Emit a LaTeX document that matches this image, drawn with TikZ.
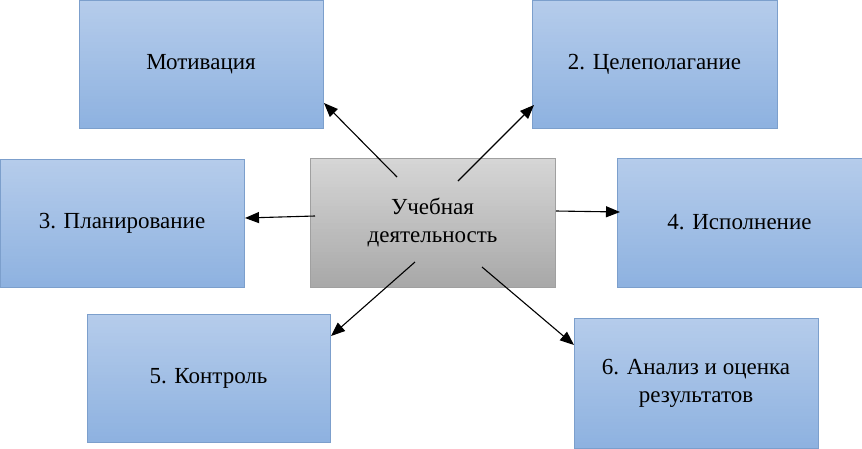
\documentclass[tikz,border=0pt]{standalone}
\usepackage{fontspec}
\setmainfont{LiberationSerif-Regular.ttf}
\newfontfamily\fb{LiberationSerif-Regular.ttf}
\usetikzlibrary{arrows.meta}
\definecolor{btop}{HTML}{B5CCEB}
\definecolor{bbot}{HTML}{8EB2E0}
\definecolor{bdraw}{HTML}{7C9FCC}
\definecolor{gtop}{HTML}{D6D6D6}
\definecolor{gbot}{HTML}{A9A9A9}
\definecolor{gdraw}{HTML}{A0A0A0}
\newcommand\gradfill[6]{%
  \foreach \i in {0,...,39}{%
    \pgfmathtruncatemacro\p{100-\i*100/39}%
    \fill[#5!\p!#6] ({#1-#3/2},{#2-#4/2+\i*#4/40}) rectangle ({#1+#3/2},{#2-#4/2+min((\i+1)*#4/40+0.6,#4)});
  }%
}
\tikzset{
  bluebox/.style={draw=bdraw, line width=0.8pt, rectangle, inner sep=0pt},
  graybox/.style={draw=gdraw, line width=0.8pt, rectangle, inner sep=0pt},
  lbl/.style={inner sep=0pt, font=\fb\fontsize{23}{28}\selectfont},
  arr/.style={-{Triangle[length=14pt,width=11pt]}, line width=1.1pt, black}
}
\begin{document}
\begin{tikzpicture}[x=1pt,y=-1pt]
\useasboundingbox (0,0) rectangle (862,448);
\gradfill{201}{64}{244}{128}{btop}{bbot}
\gradfill{654.5}{64}{245}{128}{btop}{bbot}
\gradfill{122}{223.5}{244}{128}{btop}{bbot}
\gradfill{432.5}{222.5}{245}{129}{gtop}{gbot}
\gradfill{739.5}{222.5}{245}{129}{btop}{bbot}
\gradfill{208.5}{378}{243}{128}{btop}{bbot}
\gradfill{696}{383}{244}{130}{btop}{bbot}
\node[bluebox, minimum width=244pt, minimum height=128pt] (mot) at (201,64) {};
\node[bluebox, minimum width=245pt, minimum height=128pt] (cel) at (654.5,64) {};
\node[bluebox, minimum width=244pt, minimum height=128pt] (plan) at (122,223.5) {};
\node[graybox, minimum width=245pt, minimum height=129pt] (ud) at (432.5,222.5) {};
\node[bluebox, minimum width=245pt, minimum height=129pt] (isp) at (739.5,222.5) {};
\node[bluebox, minimum width=243pt, minimum height=128pt] (kon) at (208.5,378) {};
\node[bluebox, minimum width=244pt, minimum height=130pt] (an) at (696,383) {};
\node[lbl] (tmot) at (mot.center) {Мотивация};
\node[lbl] (tcel) at (cel.center) {2. Целеполагание};
\node[lbl] (tplan) at (plan.center) {3. Планирование};
\node[lbl] (tud) at (ud.center) {\begin{tabular}{@{}c@{}}Учебная\\деятельность\end{tabular}};
\node[lbl] (tisp) at (isp.center) {4. Исполнение};
\node[lbl] (tkon) at (kon.center) {5. Контроль};
\node[lbl] (tan) at (an.center) {\begin{tabular}{@{}c@{}}6. Анализ и оценка\\результатов\end{tabular}};
\coordinate (s1) at (397,177); \coordinate (e1) at (324,103);
\coordinate (s2) at (458,181); \coordinate (e2) at (534,105);
\coordinate (s3) at (315,216); \coordinate (e3) at (245,218);
\coordinate (s4) at (556,211); \coordinate (e4) at (620,212);
\coordinate (s5) at (415,262); \coordinate (e5) at (331,336);
\coordinate (s6) at (482,267); \coordinate (e6) at (574,345);
\draw[arr] (s1) -- (e1);
\draw[arr] (s2) -- (e2);
\draw[arr] (s3) -- (e3);
\draw[arr] (s4) -- (e4);
\draw[arr] (s5) -- (e5);
\draw[arr] (s6) -- (e6);
\end{tikzpicture}
\end{document}
